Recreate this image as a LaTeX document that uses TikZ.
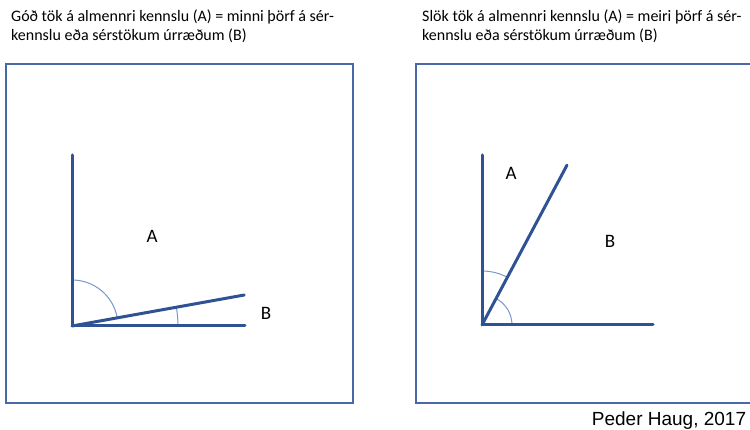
\documentclass[tikz,border=0pt]{standalone}
\usepackage{fontspec}
\setmainfont{Carlito}
\newfontfamily\creditfont{Liberation Sans}
\usepackage{tikz}
\usepackage{xcolor}
\usetikzlibrary{calc, positioning}
\definecolor{cLine}{RGB}{47,82,148}
\definecolor{cFrame}{RGB}{72,104,166}
\definecolor{cArc}{RGB}{120,150,205}
\tikzset{
	frame/.style   ={draw=cFrame, line width=1.3pt},
	ray/.style     ={draw=cLine, line width=3pt, line cap=round},
	anglearc/.style={draw=cArc, line width=1pt},
	headline/.style={anchor=north west, align=left, font=\fontsize{16}{19}\selectfont, inner sep=0pt},
	region/.style  ={font=\fontsize{19}{22}\selectfont, inner sep=0pt},
}

\begin{document}
\begin{tikzpicture}[x=1pt, y=1pt]
	\useasboundingbox (0,0) rectangle (750,430);
	% panels
	\draw[frame] (6,27) rectangle (353,366);
	\draw[frame] (416,27) rectangle (756,366);
	\node[headline] (tL) at (11,420) {Góð tök á almennri kennslu (A) = minni þörf á sér-\\kennslu eða sérstökum úrræðum (B)};
	\node[headline] (tR) at (422,420) {Slök tök á almennri kennslu (A) = meiri þörf á sér-\\kennslu eða sérstökum úrræðum (B)};
	% left: small B
	\coordinate (oL) at (72,104);
	\coordinate (vL) at (72,275);
	\coordinate (hL) at (245,104);
	\coordinate (sL) at ($(oL)+(10.2:175)$);
	\draw[anglearc] ($(oL)+(90:46)$) arc[start angle=90, end angle=10.2, radius=46];
	\draw[anglearc] ($(oL)+(0:106)$) arc[start angle=0, end angle=10.2, radius=106];
	\draw[ray] (vL) -- (oL) -- (hL);
	\draw[ray] (oL) -- (sL);
	\node[region] (aL) at (152,194) {A};
	\node[region] (bL) at (266,117) {B};
	% right: large B
	\coordinate (oR) at (482,105);
	\coordinate (vR) at (482,275);
	\coordinate (hR) at (653,105);
	\coordinate (sR) at ($(oR)+(62:181)$);
	\draw[anglearc] ($(oR)+(90:54)$) arc[start angle=90, end angle=62, radius=54];
	\draw[anglearc] ($(oR)+(0:30)$) arc[start angle=0, end angle=62, radius=30];
	\draw[ray] (vR) -- (oR) -- (hR);
	\draw[ray] (oR) -- (sR);
	\node[region] (aR) at (511,257) {A};
	\node[region] (bR) at (610,189) {B};
	\node[font=\creditfont\fontsize{19}{21}\selectfont, inner sep=0pt] (credit) at (669,9) {Peder Haug, 2017};
\end{tikzpicture}
\end{document}
